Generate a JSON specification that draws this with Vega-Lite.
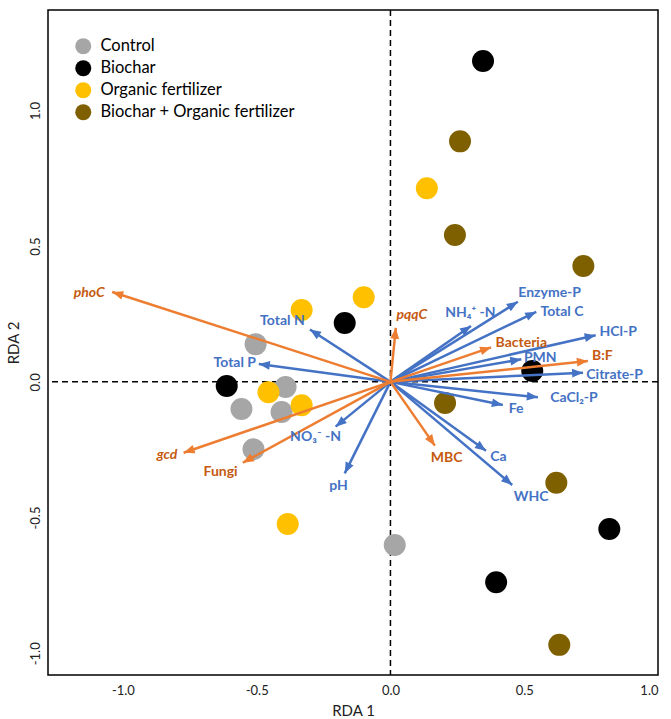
{
  "$schema": "https://vega.github.io/schema/vega-lite/v6.json",
  "width": 610,
  "height": 665,
  "autosize": {"type": "none"},
  "padding": {"left": 48, "top": 10, "right": 13, "bottom": 44},
  "background": "white",
  "config": {
    "font": "Lato",
    "view": {"stroke": "#000000", "strokeWidth": 1.5},
    "axis": {"grid": false, "ticks": false, "domain": false, "labelFont": "Lato", "labelFontSize": 13, "labelColor": "#222222", "titleFont": "Lato", "titleFontSize": 15, "titleFontWeight": "normal", "titleColor": "#222222"},
    "legend": {"orient": "none", "legendX": 27, "legendY": 28, "title": null, "symbolSize": 256, "symbolType": "circle", "labelFont": "Lato", "labelFontSize": 16.5, "labelColor": "#000000", "labelLimit": 0, "rowPadding": 5, "labelOffset": 9, "symbolStrokeWidth": 0}
  },
  "datasets": {
    "samples": [
      {"treatment": "Control", "rda1": -0.504, "rda2": 0.139},
      {"treatment": "Control", "rda1": -0.392, "rda2": -0.019},
      {"treatment": "Control", "rda1": -0.557, "rda2": -0.100},
      {"treatment": "Control", "rda1": -0.407, "rda2": -0.111},
      {"treatment": "Control", "rda1": -0.512, "rda2": -0.248},
      {"treatment": "Control", "rda1": 0.016, "rda2": -0.601},
      {"treatment": "Biochar", "rda1": 0.346, "rda2": 1.182},
      {"treatment": "Biochar", "rda1": -0.171, "rda2": 0.217},
      {"treatment": "Biochar", "rda1": -0.612, "rda2": -0.015},
      {"treatment": "Biochar", "rda1": 0.530, "rda2": 0.040},
      {"treatment": "Biochar", "rda1": 0.818, "rda2": -0.542},
      {"treatment": "Biochar", "rda1": 0.395, "rda2": -0.738},
      {"treatment": "Organic fertilizer", "rda1": 0.136, "rda2": 0.713},
      {"treatment": "Organic fertilizer", "rda1": -0.100, "rda2": 0.312},
      {"treatment": "Organic fertilizer", "rda1": -0.332, "rda2": 0.265},
      {"treatment": "Organic fertilizer", "rda1": -0.456, "rda2": -0.038},
      {"treatment": "Organic fertilizer", "rda1": -0.332, "rda2": -0.086},
      {"treatment": "Organic fertilizer", "rda1": -0.384, "rda2": -0.524},
      {"treatment": "Biochar + Organic fertilizer", "rda1": 0.260, "rda2": 0.886},
      {"treatment": "Biochar + Organic fertilizer", "rda1": 0.241, "rda2": 0.541},
      {"treatment": "Biochar + Organic fertilizer", "rda1": 0.721, "rda2": 0.427},
      {"treatment": "Biochar + Organic fertilizer", "rda1": 0.204, "rda2": -0.078},
      {"treatment": "Biochar + Organic fertilizer", "rda1": 0.620, "rda2": -0.372},
      {"treatment": "Biochar + Organic fertilizer", "rda1": 0.631, "rda2": -0.969}
    ],
    "vectors": [
      {"name": "phoC", "group": "gene", "x": -1.040, "y": 0.331, "lx": -1.126, "ly": 0.329},
      {"name": "pqqC", "group": "gene", "x": 0.020, "y": 0.199, "lx": 0.080, "ly": 0.246},
      {"name": "gcd", "group": "gene", "x": -0.773, "y": -0.261, "lx": -0.835, "ly": -0.270},
      {"name": "Bacteria", "group": "microbe", "x": 0.376, "y": 0.127, "lx": 0.489, "ly": 0.143},
      {"name": "B:F", "group": "microbe", "x": 0.738, "y": 0.077, "lx": 0.792, "ly": 0.095},
      {"name": "MBC", "group": "microbe", "x": 0.166, "y": -0.235, "lx": 0.210, "ly": -0.280},
      {"name": "Fungi", "group": "microbe", "x": -0.552, "y": -0.298, "lx": -0.635, "ly": -0.331},
      {"name": "Total N", "group": "soil", "x": -0.301, "y": 0.193, "lx": -0.404, "ly": 0.225},
      {"name": "Total P", "group": "soil", "x": -0.492, "y": 0.066, "lx": -0.582, "ly": 0.070},
      {"name": "NO₃⁻ -N", "group": "soil", "x": -0.205, "y": -0.165, "lx": -0.280, "ly": -0.202},
      {"name": "pH", "group": "soil", "x": -0.171, "y": -0.337, "lx": -0.194, "ly": -0.384},
      {"name": "NH₄⁺ -N", "group": "soil", "x": 0.301, "y": 0.206, "lx": 0.299, "ly": 0.255},
      {"name": "Enzyme-P", "group": "soil", "x": 0.476, "y": 0.295, "lx": 0.595, "ly": 0.326},
      {"name": "Total C", "group": "soil", "x": 0.545, "y": 0.258, "lx": 0.641, "ly": 0.258},
      {"name": "HCl-P", "group": "soil", "x": 0.767, "y": 0.172, "lx": 0.851, "ly": 0.185},
      {"name": "PMN", "group": "soil", "x": 0.489, "y": 0.083, "lx": 0.560, "ly": 0.087},
      {"name": "Citrate-P", "group": "soil", "x": 0.720, "y": 0.034, "lx": 0.838, "ly": 0.026},
      {"name": "CaCl₂-P", "group": "soil", "x": 0.551, "y": -0.057, "lx": 0.686, "ly": -0.061},
      {"name": "Fe", "group": "soil", "x": 0.420, "y": -0.085, "lx": 0.470, "ly": -0.101},
      {"name": "Ca", "group": "soil", "x": 0.357, "y": -0.254, "lx": 0.404, "ly": -0.276},
      {"name": "WHC", "group": "soil", "x": 0.455, "y": -0.380, "lx": 0.526, "ly": -0.423}
    ]
  },
  "layer": [
    {
      "data": {"values": [{}]},
      "mark": {"type": "rule", "color": "#000000", "strokeWidth": 1.5, "strokeDash": [6, 4]},
      "encoding": {"x": {"datum": 0, "type": "quantitative", "scale": {"domain": [-1.28, 1.0], "nice": false, "zero": false}}}
    },
    {
      "data": {"values": [{}]},
      "mark": {"type": "rule", "color": "#000000", "strokeWidth": 1.5, "strokeDash": [6, 4]},
      "encoding": {"y": {"datum": 0, "type": "quantitative", "scale": {"domain": [-1.08, 1.37], "nice": false, "zero": false}}}
    },
    {
      "data": {"name": "samples"},
      "mark": {"type": "point", "filled": true, "opacity": 1, "size": 484, "shape": "circle"},
      "encoding": {
        "x": {"field": "rda1", "type": "quantitative", "title": "RDA 1", "scale": {"domain": [-1.28, 1.0], "nice": false, "zero": false},
              "axis": {"values": [-1, -0.5, 0, 0.5, 1], "format": ".1f", "labelExpr": "replace(datum.label, '−', '-')", "labelPadding": 9, "titlePadding": 6}},
        "y": {"field": "rda2", "type": "quantitative", "title": "RDA 2", "scale": {"domain": [-1.08, 1.37], "nice": false, "zero": false},
              "axis": {"values": [-1, -0.5, 0, 0.5, 1], "format": ".1f", "labelExpr": "replace(datum.label, '−', '-')", "labelAngle": -90, "labelAlign": "center", "labelBaseline": "bottom", "labelPadding": 6, "titlePadding": 8}},
        "color": {"field": "treatment", "type": "nominal",
                  "scale": {"domain": ["Control", "Biochar", "Organic fertilizer", "Biochar + Organic fertilizer"], "range": ["#A6A6A6", "#000000", "#FFC000", "#7F6000"]},
                  "legend": {"title": null}}
      }
    },
    {
      "data": {"name": "vectors"},
      "transform": [{"filter": "datum.group === 'soil'"}],
      "mark": {"type": "rule", "color": "#4472C4", "strokeWidth": 2.5},
      "encoding": {"x": {"field": "x", "type": "quantitative"}, "y": {"field": "y", "type": "quantitative"}, "x2": {"datum": 0}, "y2": {"datum": 0}}
    },
    {
      "data": {"name": "vectors"},
      "transform": [{"filter": "datum.group !== 'soil'"}],
      "mark": {"type": "rule", "color": "#ED7D31", "strokeWidth": 2.5},
      "encoding": {"x": {"field": "x", "type": "quantitative"}, "y": {"field": "y", "type": "quantitative"}, "x2": {"datum": 0}, "y2": {"datum": 0}}
    },
    {
      "data": {"name": "vectors"},
      "transform": [{"filter": "datum.group === 'soil'"}, {"calculate": "90 - atan2(datum.y * 271.4, datum.x * 266.9) * 180 / PI", "as": "ang"}],
      "mark": {"type": "point", "filled": true, "opacity": 1, "color": "#4472C4", "size": 484, "shape": "M0,0L-0.4,1L0.4,1Z"},
      "encoding": {"x": {"field": "x", "type": "quantitative"}, "y": {"field": "y", "type": "quantitative"}, "angle": {"field": "ang", "type": "quantitative", "scale": null}}
    },
    {
      "data": {"name": "vectors"},
      "transform": [{"filter": "datum.group !== 'soil'"}, {"calculate": "90 - atan2(datum.y * 271.4, datum.x * 266.9) * 180 / PI", "as": "ang"}],
      "mark": {"type": "point", "filled": true, "opacity": 1, "color": "#ED7D31", "size": 484, "shape": "M0,0L-0.4,1L0.4,1Z"},
      "encoding": {"x": {"field": "x", "type": "quantitative"}, "y": {"field": "y", "type": "quantitative"}, "angle": {"field": "ang", "type": "quantitative", "scale": null}}
    },
    {
      "data": {"name": "vectors"},
      "transform": [{"filter": "datum.group === 'soil'"}],
      "mark": {"type": "text", "color": "#4472C4", "font": "Lato", "fontSize": 14, "fontWeight": "bold", "align": "center", "baseline": "middle"},
      "encoding": {"x": {"field": "lx", "type": "quantitative"}, "y": {"field": "ly", "type": "quantitative"}, "text": {"field": "name"}}
    },
    {
      "data": {"name": "vectors"},
      "transform": [{"filter": "datum.group === 'microbe'"}],
      "mark": {"type": "text", "color": "#C55A11", "font": "Lato", "fontSize": 14, "fontWeight": "bold", "align": "center", "baseline": "middle"},
      "encoding": {"x": {"field": "lx", "type": "quantitative"}, "y": {"field": "ly", "type": "quantitative"}, "text": {"field": "name"}}
    },
    {
      "data": {"name": "vectors"},
      "transform": [{"filter": "datum.group === 'gene'"}],
      "mark": {"type": "text", "color": "#C55A11", "font": "Lato", "fontSize": 14, "fontWeight": "bold", "fontStyle": "italic", "align": "center", "baseline": "middle"},
      "encoding": {"x": {"field": "lx", "type": "quantitative"}, "y": {"field": "ly", "type": "quantitative"}, "text": {"field": "name"}}
    }
  ]
}
